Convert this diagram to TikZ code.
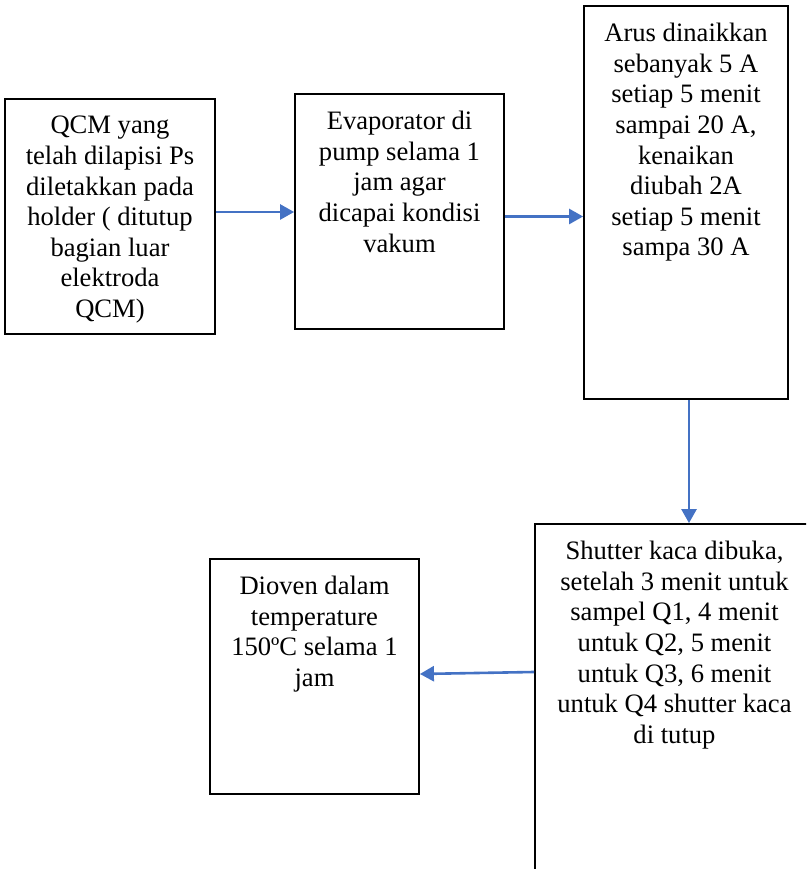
\documentclass[tikz,border=0pt]{standalone}
\usepackage{fontspec}
\setmainfont{Liberation Serif}
\usetikzlibrary{arrows.meta,positioning}

\definecolor{arrowblue}{RGB}{68,114,196}

\tikzset{
  stepbox/.style 2 args={draw, line width=1.8pt, inner sep=0pt,
    minimum width=#1, minimum height=#2},
  boxtext/.style={align=center, inner sep=0pt,
    font=\fontsize{26.6}{30.6}\selectfont},
  flow/.style={draw=arrowblue, line width=2.6pt,
    -{Triangle[length=14pt,width=15pt]}}
}

\begin{document}
\begin{tikzpicture}[x=1pt,y=1pt]

%% page frame
\clip (0,0) rectangle (806,869);

% QCM on holder
\node[stepbox={210pt}{235pt}] (qcm) at (110,652.5) {};
\node[boxtext, below=18pt of qcm.north] (qcmtxt)
  {QCM yang\\ telah dilapisi Ps\\ diletakkan pada\\ holder ( ditutup\\ bagian luar\\ elektroda\\ QCM)};

% evaporator pump
\node[stepbox={209pt}{235pt}] (pump) at (399.5,657.5) {};
\node[boxtext, below=18pt of pump.north] (pumptxt)
  {Evaporator di\\ pump selama 1\\ jam agar\\ dicapai kondisi\\ vakum};

% current steps
\node[stepbox={204pt}{393pt}] (arus) at (686,666.5) {};
\node[boxtext, below=18pt of arus.north] (arustxt)
  {Arus dinaikkan\\ sebanyak 5 A\\ setiap 5 menit\\ sampai 20 A,\\ kenaikan\\ diubah 2A\\ setiap 5 menit\\ sampa 30 A};

% shutter (runs off the page)
\node[stepbox={279pt}{365pt}] (shutter) at (674.5,162.5) {};
\node[boxtext, below=18pt of shutter.north] (shuttertxt)
  {Shutter kaca dibuka,\\ setelah 3 menit untuk\\ sampel Q1, 4 menit\\ untuk Q2, 5 menit\\ untuk Q3, 6 menit\\ untuk Q4 shutter kaca\\ di tutup};

% oven
\node[stepbox={209pt}{235pt}] (oven) at (314.5,192.5) {};
\node[boxtext, below=18pt of oven.north] (oventxt)
  {Dioven dalam\\ temperature\\ 150ºC selama 1\\ jam};

%% arrows
\draw[flow] ([yshift=4.5pt]qcm.east) -- ([yshift=-0.5pt]pump.west);
\draw[flow] ([yshift=-5pt]pump.east) -- ([yshift=-14pt]arus.west);
\draw[flow] ([xshift=3pt]arus.south) -- ([xshift=14.5pt]shutter.north);
\draw[flow] ([yshift=34.5pt]shutter.west) -- ([yshift=2.5pt]oven.east);

\end{tikzpicture}
\end{document}
